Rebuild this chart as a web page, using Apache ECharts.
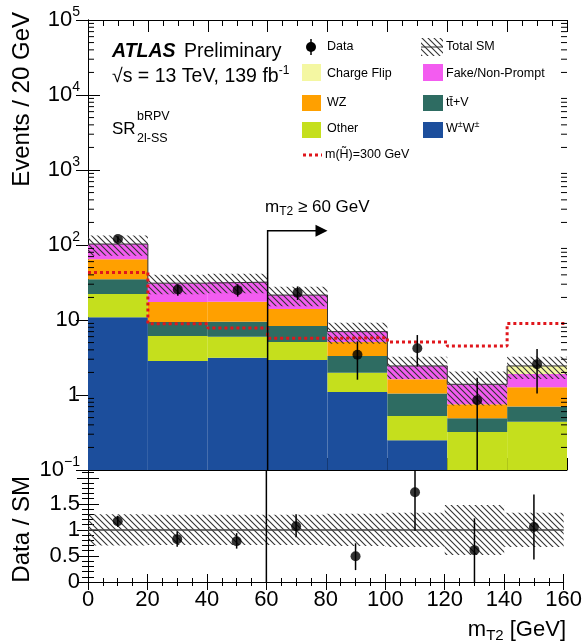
<!DOCTYPE html>
<html><head><meta charset="utf-8">
<script src="https://cdn.jsdelivr.net/npm/echarts/dist/echarts.min.js"></script>
<style>html,body{margin:0;padding:0;background:#fff}#c{width:585px;height:644px}</style>
</head><body><div id="c"></div>
<script>
// ---- data ----
const binEdges = [0, 20, 40, 60, 80, 100, 120, 140, 160];
const wwVals = [10.9, 2.84, 3.14, 2.93, 1.1, 0.25, 0, 0];
const otherVals = [11.3, 3.26, 2.86, 2.17, 0.88, 0.275, 0.32, 0.44];
const ttvVals = [12.7, 3.3, 3.5, 3.2, 1.32, 0.525, 0.17, 0.26];
const wzVals = [29.6, 8.0, 8.0, 5.7, 1.8, 0.57, 0.26, 0.57];
const fakeVals = [38.5, 13.6, 14.5, 7.5, 1.9, 0.82, 0.64, 0.63];
const chargeFlipVals = [0, 0, 0, 0, 0, 0, 0, 0.54];
const sysUnc = [0.30, 0.29, 0.29, 0.29, 0.31, 0.33, 0.48, 0.33];
const dataVals = [120, 25.5, 25, 23, 3.45, 4.2, 0.85, 2.58];
const dataLo = [109, 21, 20.5, 18.5, 1.6, 2.4, 0, 1.05];
const dataHi = [131, 30, 30, 28, 5.2, 6.3, 1.7, 4.1];
const signalVals = [43, 8.9, 7.8, 5.7, 5.8, 5.1, 4.5, 9.0];
const cutValue = 60;
const cutArrowLevel = 155;
const cutArrowEnd = 80;

const FONT = 'Liberation Sans, Arial, sans-serif';
const YMIN = 0.1, YMAX = 1e5, RMIN = 0, RMAX = 2.15;

function makeHatch() {
  const s = 6, c = document.createElement('canvas');
  c.width = s; c.height = s;
  const g = c.getContext('2d');
  g.strokeStyle = '#333'; g.lineWidth = 1.1;
  g.beginPath();
  g.moveTo(0, 0); g.lineTo(s, s);
  g.moveTo(-1, s - 1); g.lineTo(1, s + 1);
  g.moveTo(s - 1, -1); g.lineTo(s + 1, 1);
  g.stroke();
  return c;
}
const hatch = { image: makeHatch(), repeat: 'repeat' };

const layers = [
  { name: 'W±W±', vals: wwVals, color: '#1c4e9c' },
  { name: 'Other', vals: otherVals, color: '#c5df1d' },
  { name: 'ttV', vals: ttvVals, color: '#2e6c62' },
  { name: 'WZ', vals: wzVals, color: '#ffa000' },
  { name: 'Fake/Non-Prompt', vals: fakeVals, color: '#f35cf0' },
  { name: 'Charge Flip', vals: chargeFlipVals, color: '#f4f7a2' }
];
const nb = dataVals.length;
const centers = dataVals.map((_, i) => (binEdges[i] + binEdges[i + 1]) / 2);

function rectRender(fill, ymin, ymax) {
  return function (params, api) {
    const lo = Math.max(api.value(2), ymin), hi = Math.min(api.value(3), ymax);
    if (!(hi > lo)) return null;
    const p0 = api.coord([api.value(0), hi]), p1 = api.coord([api.value(1), lo]);
    return { type: 'rect', shape: { x: p0[0], y: p0[1], width: p1[0] - p0[0], height: p1[1] - p0[1] }, style: { fill: fill } };
  };
}
function errRender(ymin, ymax) {
  return function (params, api) {
    const lo = Math.max(api.value(1), ymin), hi = Math.min(api.value(2), ymax);
    const a = api.coord([api.value(0), lo]), b = api.coord([api.value(0), hi]);
    return { type: 'line', shape: { x1: a[0], y1: a[1], x2: b[0], y2: b[1] }, style: { stroke: '#000', lineWidth: 1.5 } };
  };
}

const series = [];
const cum = new Array(nb).fill(0);
layers.forEach((L) => {
  const items = [];
  for (let i = 0; i < nb; i++) {
    const lo = cum[i], hi = lo + L.vals[i];
    cum[i] = hi;
    items.push([binEdges[i], binEdges[i + 1], lo, hi]);
  }
  series.push({ type: 'custom', name: L.name, xAxisIndex: 0, yAxisIndex: 0, z: 2, silent: true,
    encode: { x: 0, y: 3 }, data: items, renderItem: rectRender(L.color, YMIN, YMAX) });
});
const total = cum.slice();

// hatched uncertainty band (main)
series.push({ type: 'custom', xAxisIndex: 0, yAxisIndex: 0, z: 3, silent: true, encode: { x: 0, y: 3 },
  data: total.map((t, i) => [binEdges[i], binEdges[i + 1], t * (1 - sysUnc[i]), t * (1 + sysUnc[i])]),
  renderItem: rectRender(hatch, YMIN, YMAX) });
// total outline
series.push({ type: 'line', xAxisIndex: 0, yAxisIndex: 0, step: 'end', symbol: 'none', z: 4, silent: true,
  data: binEdges.map((e, i) => [e, total[Math.min(i, nb - 1)]]), lineStyle: { color: '#333', width: 1 } });
// signal
series.push({ type: 'line', xAxisIndex: 0, yAxisIndex: 0, step: 'end', symbol: 'none', z: 5, silent: true,
  data: binEdges.map((e, i) => [e, signalVals[Math.min(i, nb - 1)]]),
  lineStyle: { color: '#e0161c', width: 3, type: [3, 3] } });
// log minor ticks
const minorVals = [];
for (let e = -1; e < 5; e++) for (let k = 2; k <= 9; k++) minorVals.push([0, k * Math.pow(10, e)]);
series.push({ type: 'custom', xAxisIndex: 0, yAxisIndex: 0, z: 6, silent: true, data: minorVals,
  renderItem: function (params, api) {
    const l = api.coord([binEdges[0], api.value(1)]), r = api.coord([binEdges[nb], api.value(1)]);
    return { type: 'group', children: [
      { type: 'line', shape: { x1: l[0], y1: l[1], x2: l[0] + 6, y2: l[1] }, style: { stroke: '#000', lineWidth: 1 } },
      { type: 'line', shape: { x1: r[0] - 6, y1: r[1], x2: r[0], y2: r[1] }, style: { stroke: '#000', lineWidth: 1 } }
    ] };
  } });
// cut line + arrow (main)
series.push({ type: 'custom', xAxisIndex: 0, yAxisIndex: 0, z: 7, silent: true, data: [[cutValue, cutArrowLevel, cutArrowEnd]],
  renderItem: function (params, api) {
    const a = api.coord([api.value(0), YMIN]), b = api.coord([api.value(0), api.value(1)]), c = api.coord([api.value(2), api.value(1)]);
    return { type: 'group', children: [
      { type: 'polyline', shape: { points: [a, b, [c[0] - 10, c[1]]] }, style: { stroke: '#000', lineWidth: 1.5, fill: null } },
      { type: 'polygon', shape: { points: [[c[0] - 12, c[1] - 6], [c[0], c[1]], [c[0] - 12, c[1] + 6]] }, style: { fill: '#000' } }
    ] };
  } });
// data
series.push({ type: 'custom', xAxisIndex: 0, yAxisIndex: 0, z: 9, silent: true, encode: { x: 0, y: 2 },
  data: centers.map((c, i) => [c, dataLo[i], dataHi[i]]), renderItem: errRender(YMIN, YMAX) });
series.push({ type: 'scatter', xAxisIndex: 0, yAxisIndex: 0, z: 10, silent: true, symbolSize: 10,
  itemStyle: { color: '#000' }, data: centers.map((c, i) => [c, dataVals[i]]) });

// ---- ratio panel ----
series.push({ type: 'custom', xAxisIndex: 2, yAxisIndex: 2, z: 3, silent: true, encode: { x: 0, y: 3 },
  data: sysUnc.map((u, i) => [binEdges[i], binEdges[i + 1], 1 - u, 1 + u]),
  renderItem: rectRender(hatch, RMIN, RMAX) });
series.push({ type: 'line', xAxisIndex: 2, yAxisIndex: 2, symbol: 'none', z: 4, silent: true,
  data: [[binEdges[0], 1], [binEdges[nb], 1]], lineStyle: { color: '#444', width: 1.5 } });
series.push({ type: 'custom', xAxisIndex: 2, yAxisIndex: 2, z: 7, silent: true, data: [[cutValue, RMIN, RMAX]],
  renderItem: function (params, api) {
    const a = api.coord([api.value(0), api.value(1)]), b = api.coord([api.value(0), api.value(2)]);
    return { type: 'line', shape: { x1: a[0], y1: a[1], x2: b[0], y2: b[1] }, style: { stroke: '#000', lineWidth: 1.5 } };
  } });
series.push({ type: 'custom', xAxisIndex: 2, yAxisIndex: 2, z: 9, silent: true, encode: { x: 0, y: 2 },
  data: centers.map((c, i) => [c, dataLo[i] / total[i], dataHi[i] / total[i]]), renderItem: errRender(RMIN, RMAX) });
series.push({ type: 'scatter', xAxisIndex: 2, yAxisIndex: 2, z: 10, silent: true, symbolSize: 10,
  itemStyle: { color: '#000' }, data: centers.map((c, i) => [c, dataVals[i] / total[i]]) });

// ---- axes ----
const LBL = 22;
const supStyle = { fontSize: 14, fontFamily: FONT, color: '#000', padding: [0, 0, 15, 0] };
function logFmt(v) {
  const e = Math.round(Math.log10(v));
  if (e === 0) return '1';
  if (e === 1) return '10';
  return '10{sup|' + (e < 0 ? '\u2212' : '') + Math.abs(e) + '}';
}
const lineBlack = { show: true, lineStyle: { color: '#000', width: 1 } };
function xAx(grid, pos, labels, tickLen, minorLen) {
  return { type: 'value', gridIndex: grid, position: pos, min: binEdges[0], max: binEdges[nb], interval: 20,
    axisLine: lineBlack, splitLine: { show: false },
    axisTick: { show: true, inside: true, length: tickLen, lineStyle: { color: '#000' } },
    minorTick: { show: true, splitNumber: 4, length: minorLen, lineStyle: { color: '#000' } },
    axisLabel: { show: labels, fontSize: LBL, fontFamily: FONT, color: '#000', margin: 7, hideOverlap: false } };
}
function yLog(pos, labels) {
  return { type: 'log', logBase: 10, gridIndex: 0, position: pos, min: YMIN, max: YMAX,
    axisLine: lineBlack, splitLine: { show: false },
    axisTick: { show: true, inside: true, length: 12, lineStyle: { color: '#000' } },
    axisLabel: { show: labels, fontSize: LBL, fontFamily: FONT, color: '#000', margin: 8, formatter: logFmt, rich: { sup: supStyle }, hideOverlap: false } };
}
function yRatio(pos, labels) {
  return { type: 'value', gridIndex: 1, position: pos, min: RMIN, max: RMAX, interval: 0.5,
    axisLine: lineBlack, splitLine: { show: false },
    axisTick: { show: true, inside: true, length: 11, lineStyle: { color: '#000' } },
    minorTick: { show: true, splitNumber: 5, length: 6, lineStyle: { color: '#000' } },
    axisLabel: { show: labels, fontSize: LBL, fontFamily: FONT, color: '#000', margin: 8, hideOverlap: false,
      formatter: v => (v > 1.6 ? '' : String(v)) } };
}

function txt(x, y, text, size, extra) {
  return Object.assign({ type: 'text', x: 0, y: 0, silent: true, z: 100,
    style: Object.assign({ text: text, x: x, y: y, fontSize: size, fontFamily: FONT, fill: '#000',
      textAlign: 'left', align: 'left', textVerticalAlign: 'middle', verticalAlign: 'middle' }, extra || {}) });
}
const subRich = (fs, pad) => ({ fontSize: fs, fontFamily: FONT, color: '#000', padding: [pad, 0, 0, 0] });
const supRich = (fs, pad) => ({ fontSize: fs, fontFamily: FONT, color: '#000', padding: [0, 0, pad, 0] });
function sw(x, y, w, h, fill) {
  return { type: 'rect', silent: true, z: 100, shape: { x: x, y: y, width: w, height: h }, style: { fill: fill } };
}

const graphic = [
  txt(112, 52, 'ATLAS', 19.5, { fontStyle: 'italic', fontWeight: 'bold' }),
  txt(184, 52, 'Preliminary', 19.5),
  txt(112, 77, '\u221As = 13 TeV, 139 fb{sup|-1}', 19.5, { rich: { sup: supRich(12, 12) } }),
  txt(112, 129, 'SR', 17),
  txt(137, 117, 'bRPV', 12.5),
  txt(137, 139, '2l-SS', 12.5),
  // legend column 1
  { type: 'line', silent: true, z: 100, shape: { x1: 311, y1: 39, x2: 311, y2: 55 }, style: { stroke: '#000', lineWidth: 1.5 } },
  { type: 'circle', silent: true, z: 100, shape: { cx: 311, cy: 47, r: 5 }, style: { fill: '#000' } },
  txt(327, 47, 'Data', 12.5),
  sw(302, 64, 19, 17, layers[5].color), txt(327, 74, 'Charge Flip', 12.5),
  sw(302, 95, 19, 16, layers[3].color), txt(327, 103, 'WZ', 12.5),
  sw(302, 122, 19, 16, layers[1].color), txt(327, 129, 'Other', 12.5),
  { type: 'line', silent: true, z: 100, shape: { x1: 303, y1: 155, x2: 322, y2: 155 }, style: { stroke: '#e0161c', lineWidth: 3, lineDash: [3, 3] } },
  txt(325, 155, 'm(H\u0303)=300 GeV', 12.5),
  // legend column 2
  sw(421, 38, 22, 18, hatch),
  { type: 'line', silent: true, z: 100, shape: { x1: 421, y1: 47, x2: 443, y2: 47 }, style: { stroke: '#333', lineWidth: 1 } },
  txt(446, 47, 'Total SM', 12.5),
  sw(423, 64, 20, 17, layers[4].color), txt(446, 74, 'Fake/Non-Prompt', 12.5),
  sw(423, 95, 20, 16, layers[2].color), txt(446, 103, 'tt\u0304+V', 12.5),
  sw(423, 122, 20, 16, layers[0].color), txt(446, 129, 'W{sup|\u00B1}W{sup|\u00B1}', 12.5, { rich: { sup: supRich(9, 8) } }),
  // cut label
  txt(265, 207, 'm{sub|T2} \u2265 60 GeV', 17, { rich: { sub: subRich(12, 9) } }),
  // axis titles
  txt(566, 630, 'm{sub|T2} [GeV]', 22, { textAlign: 'right', align: 'right', rich: { sub: subRich(15, 12) } }),
  Object.assign(txt(0, 0, 'Events / 20 GeV', 24, { textAlign: 'right', align: 'right' }), { x: 22, y: 12, rotation: Math.PI / 2 }),
  Object.assign(txt(0, 0, 'Data / SM', 24, { textAlign: 'right', align: 'right' }), { x: 22, y: 476, rotation: Math.PI / 2 })
];

const option = {
  animation: false,
  backgroundColor: '#fff',
  grid: [
    { left: 88, top: 20, width: 479, height: 450, containLabel: false },
    { left: 88, top: 470, width: 479, height: 112, containLabel: false }
  ],
  xAxis: [xAx(0, 'bottom', false, 12, 6), xAx(0, 'top', false, 12, 6), xAx(1, 'bottom', true, 8, 4), xAx(1, 'top', false, 8, 4)],
  yAxis: [yLog('left', true), yLog('right', false), yRatio('left', true), yRatio('right', false)],
  series: series,
  graphic: graphic
};
const chart = echarts.init(document.getElementById('c'), null, { renderer: 'canvas' });
chart.setOption(option);
</script></body></html>
